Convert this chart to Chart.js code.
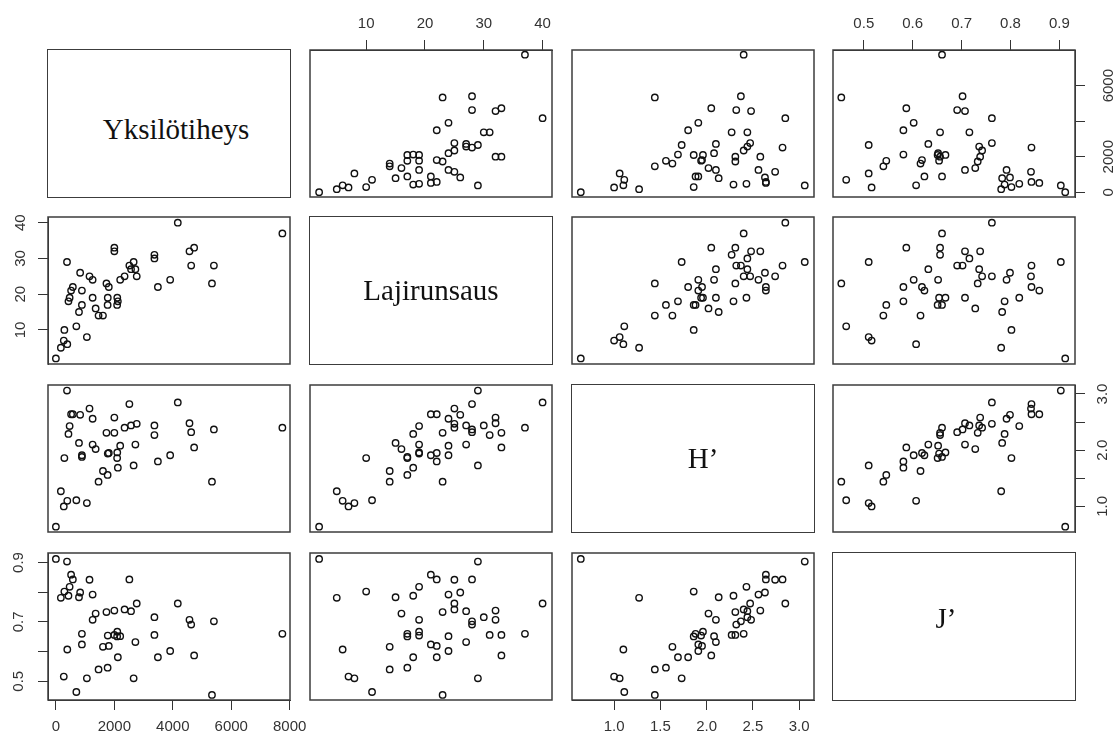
<!DOCTYPE html>
<html>
<head>
<meta charset="utf-8">
<title>Pairs</title>
<script src="https://cdn.jsdelivr.net/npm/chart.js@4.4.1/dist/chart.umd.min.js"></script>
<style>
	html, body { margin: 0; padding: 0; background: #fff; }
	#plot { position: relative; width: 1117px; height: 738px; overflow: hidden; }
	#plot canvas { position: absolute; }
	.diag {
		position: absolute; box-sizing: border-box; border: 1.5px solid #3c3c3c;
		display: flex; align-items: center; justify-content: center;
		font-family: "Liberation Serif", "Times New Roman", serif; font-size: 29px; color: #111;
	}
</style>
</head>
<body>
<div id="plot"></div>
<script>
var varNames = ["Yksilötiheys", "Lajirunsaus", "H’", "J’"];

// one entry per sample, same order in every array
var yksilotiheys = [0, 380, 170, 290, 390, 270, 1060, 700, 5340, 1460, 1770, 2660, 1610, 2120, 3490, 4730, 3910,
	830, 520, 580, 470, 430, 890, 890, 790, 1150, 1257, 1257, 1360, 1730, 1810, 1775, 2000, 2000, 2100, 2095, 2200,
	2350, 2514, 2571, 2766, 2720, 3371, 3371, 4171, 4571, 4629, 5406, 7749];
var lajirunsaus = [2, 29, 5, 10, 6, 7, 8, 11, 23, 14, 17, 29, 14, 18, 22, 33, 24,
	26, 21, 22, 19, 18, 17, 21, 15, 25, 24, 19, 16, 23, 22, 19, 32, 33, 19, 17, 24,
	25, 28, 27, 25, 27, 30, 31, 40, 32, 28, 28, 37];
var shannonH = [0.64, 3.06, 1.27, 1.86, 1.10, 1.00, 1.06, 1.11, 1.44, 1.44, 1.56, 1.73, 1.63, 1.69, 1.80, 2.05, 1.91,
	2.63, 2.64, 2.64, 2.43, 2.29, 1.88, 1.91, 2.13, 2.74, 2.56, 2.10, 2.02, 2.31, 1.95, 1.94, 2.58, 2.31, 1.96, 1.86, 2.08,
	2.40, 2.82, 2.44, 2.47, 2.10, 2.44, 2.27, 2.85, 2.48, 2.32, 2.37, 2.40];
var pielouJ = [0.912, 0.903, 0.781, 0.802, 0.607, 0.516, 0.510, 0.464, 0.454, 0.540, 0.546, 0.510, 0.616, 0.581, 0.581, 0.587, 0.602,
	0.799, 0.859, 0.843, 0.818, 0.788, 0.660, 0.624, 0.783, 0.842, 0.792, 0.707, 0.728, 0.733, 0.619, 0.654, 0.738, 0.656, 0.667, 0.651, 0.652,
	0.742, 0.843, 0.736, 0.762, 0.632, 0.716, 0.656, 0.762, 0.707, 0.691, 0.702, 0.660];

var axisMin = [-270, 0.45, 0.545, 0.437];
var axisMax = [8010, 41.6, 3.16, 0.932];

var yksTicks = [0, 2000, 4000, 6000, 8000];
var yksLabels = ["0", "2000", "4000", "6000", "8000"];
var yksSideTicks = [0, 2000, 4000, 6000];
var yksSideLabels = ["0", "2000", "", "6000"];
var lajiTicks = [10, 20, 30, 40];
var lajiLabels = ["10", "20", "30", "40"];
var hTicks = [1.0, 1.5, 2.0, 2.5, 3.0];
var hLabels = ["1.0", "1.5", "2.0", "2.5", "3.0"];
var hSideLabels = ["1.0", "", "2.0", "", "3.0"];
var jTicks = [0.5, 0.6, 0.7, 0.8, 0.9];
var jLabels = ["0.5", "0.6", "0.7", "0.8", "0.9"];
var jSideLabels = ["0.5", "", "0.7", "", "0.9"];

var series = [yksilotiheys, lajirunsaus, shannonH, pielouJ];

// panel grid
var colLeft = [48, 310, 572, 833];
var rowTop = [50, 217, 385, 553];
var W = 242, H = 147, M = 50;

// outer axes, R pairs() style: alternating sides
var xAxes = [
	{pos: "bottom", row: 3, ticks: yksTicks, labels: yksLabels},
	{pos: "top", row: 0, ticks: lajiTicks, labels: lajiLabels},
	{pos: "bottom", row: 3, ticks: hTicks, labels: hLabels},
	{pos: "top", row: 0, ticks: jTicks, labels: jLabels}
];
var yAxes = [
	{pos: "right", col: 3, ticks: yksSideTicks, labels: yksSideLabels},
	{pos: "left", col: 0, ticks: lajiTicks, labels: lajiLabels},
	{pos: "right", col: 3, ticks: hTicks, labels: hSideLabels},
	{pos: "left", col: 0, ticks: jTicks, labels: jSideLabels}
];

var boxPlugin = {
	id: "panelBox",
	afterDraw: function(chart)
	{
		var a = chart.chartArea;
		var ctx = chart.ctx;
		ctx.save();
		ctx.strokeStyle = "#3c3c3c";
		ctx.lineWidth = 1.5;
		ctx.strokeRect(a.left, a.top, a.right - a.left, a.bottom - a.top);
		ctx.restore();
	}
};

function makeScale(v, pos, ax)
{
	var horizontal = (pos === "top" || pos === "bottom");
	var shown = ax !== null;
	var pad = 8;
	if (pos === "top") pad = 7;
	if (pos === "left") pad = 9;
	if (pos === "right") pad = 7;

	return {
		type: "linear",
		position: pos,
		min: axisMin[v],
		max: axisMax[v],
		display: shown,
		afterBuildTicks: function(scale)
		{
			if (shown) scale.ticks = ax.ticks.map(function(t) { return {value: t}; });
		},
		afterFit: function(scale)
		{
			if (!shown) return;
			if (horizontal) { scale.height = M; scale.paddingLeft = 0; scale.paddingRight = 0; }
			else { scale.width = M; scale.paddingTop = 0; scale.paddingBottom = 0; }
		},
		grid: {drawOnChartArea: false, drawTicks: true, tickLength: 10, color: "#333", lineWidth: 1},
		border: {display: shown, color: "#333", width: 1},
		ticks: {
			autoSkip: false,
			minRotation: horizontal ? 0 : 90,
			maxRotation: horizontal ? 0 : 90,
			crossAlign: horizontal ? "near" : "center",
			padding: pad,
			color: "#333",
			font: {family: "'Liberation Sans', Arial, sans-serif", size: 15},
			callback: function(val, i) { return shown ? ax.labels[i] : ""; }
		}
	};
}

function drawPanel(plot, r, c)
{
	var xa = (xAxes[c].row === r) ? xAxes[c] : null;
	var ya = (yAxes[r].col === c) ? yAxes[r] : null;
	var xPos = xa ? xa.pos : "bottom";
	var yPos = ya ? ya.pos : "left";

	var canvas = document.createElement("canvas");
	canvas.width = W + 2 * M;
	canvas.height = H + 2 * M;
	canvas.style.left = (colLeft[c] - M) + "px";
	canvas.style.top = (rowTop[r] - M) + "px";
	plot.appendChild(canvas);

	var pts = [];
	for (var i = 0; i < series[c].length; i++)
	{
		pts.push({x: series[c][i], y: series[r][i]});
	}

	new Chart(canvas, {
		type: "scatter",
		data: {
			datasets: [{
				data: pts,
				pointStyle: "circle",
				pointRadius: 3.2,
				pointBorderWidth: 1.4,
				borderColor: "#111",
				backgroundColor: "rgba(0,0,0,0)"
			}]
		},
		options: {
			responsive: false,
			animation: false,
			devicePixelRatio: 1,
			events: [],
			layout: {
				padding: {
					left: (ya && yPos === "left") ? 0 : M,
					right: (ya && yPos === "right") ? 0 : M,
					top: (xa && xPos === "top") ? 0 : M,
					bottom: (xa && xPos === "bottom") ? 0 : M
				}
			},
			plugins: {legend: {display: false}, tooltip: {enabled: false}},
			scales: {
				x: makeScale(c, xPos, xa),
				y: makeScale(r, yPos, ya)
			}
		},
		plugins: [boxPlugin]
	});
}

function drawDiagonal(plot, k)
{
	var shift = [[7, 6], [0, 0], [10, 0], [-8, -8]];
	var div = document.createElement("div");
	div.className = "diag";
	div.style.left = (colLeft[k] - 1) + "px";
	div.style.top = (rowTop[k] - 1) + "px";
	div.style.width = (W + 2) + "px";
	div.style.height = (H + 2) + "px";

	var span = document.createElement("span");
	span.textContent = varNames[k];
	span.style.position = "relative";
	span.style.left = shift[k][0] + "px";
	span.style.top = shift[k][1] + "px";
	div.appendChild(span);
	plot.appendChild(div);
}

var plot = document.getElementById("plot");
for (var r = 0; r < 4; r++)
{
	for (var c = 0; c < 4; c++)
	{
		if (r === c) drawDiagonal(plot, r);
		else drawPanel(plot, r, c);
	}
}
</script>
</body>
</html>
